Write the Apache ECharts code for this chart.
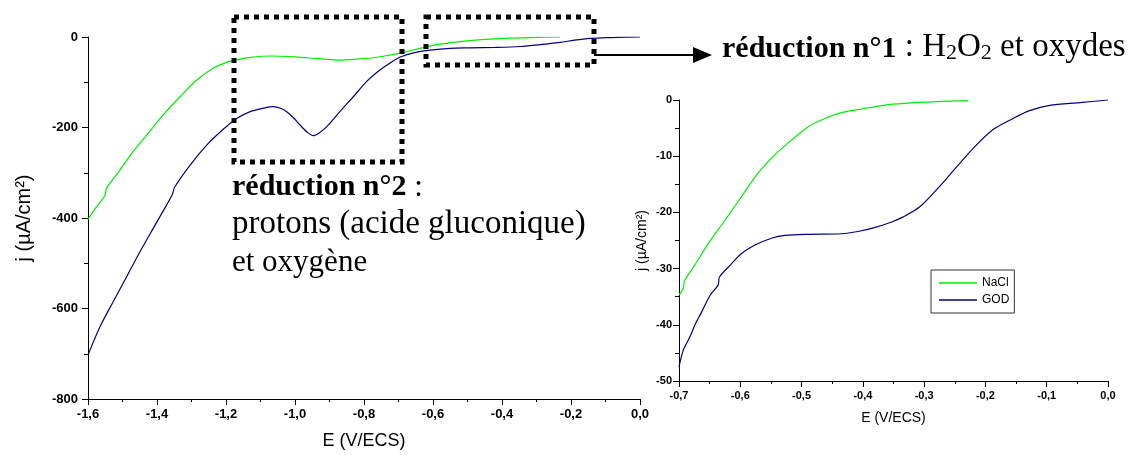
<!DOCTYPE html>
<html>
<head>
<meta charset="utf-8">
<script src="https://cdn.jsdelivr.net/npm/echarts@6/dist/echarts.min.js"></script>
<style>html,body{margin:0;padding:0;background:#fff;}#c{width:1132px;height:455px;}</style>
</head>
<body>
<div id="c"></div>
<script>
// ---- Data (E in V/ECS, j in µA/cm²) ----
const seriesNames = ['NaCl', 'GOD'];
// Main chart
const mainNaCl = [[-1.6,-403],[-1.575,-375],[-1.551,-351],[-1.546,-334],[-1.507,-294],[-1.469,-253],[-1.43,-217],[-1.382,-172],[-1.333,-132],[-1.285,-95],[-1.237,-69],[-1.198,-56],[-1.159,-49],[-1.13,-45],[-1.07,-42],[-1.0,-44],[-0.93,-48],[-0.87,-51],[-0.8,-48],[-0.74,-42],[-0.69,-35],[-0.61,-20],[-0.54,-12],[-0.46,-6],[-0.38,-2.5],[-0.3,-1],[-0.232,0]];
const mainGOD = [[-1.6,-703],[-1.565,-640],[-1.527,-585],[-1.488,-530],[-1.449,-474],[-1.411,-423],[-1.372,-371],[-1.355,-347],[-1.349,-332],[-1.304,-283],[-1.256,-239],[-1.208,-204],[-1.169,-180],[-1.13,-165],[-1.09,-157],[-1.063,-154],[-1.04,-158],[-1.024,-165],[-1.005,-178],[-0.986,-194],[-0.965,-210],[-0.947,-218],[-0.93,-212],[-0.908,-198],[-0.87,-165],[-0.831,-132],[-0.792,-98],[-0.754,-73],[-0.72,-55],[-0.691,-43],[-0.65,-34],[-0.609,-29],[-0.55,-25],[-0.493,-24],[-0.42,-23],[-0.348,-21],[-0.29,-17],[-0.232,-12],[-0.19,-7],[-0.145,-3],[-0.1,-1.5],[-0.068,-0.7],[0,0]];
// Inset (zoom on réduction n°1)
const insetNaCl = [[-0.7,-34.7],[-0.693,-33.5],[-0.691,-32.2],[-0.675,-29.5],[-0.652,-25.5],[-0.625,-21.4],[-0.598,-17.2],[-0.571,-13.0],[-0.544,-9.8],[-0.516,-7.1],[-0.489,-4.75],[-0.462,-3.3],[-0.435,-2.25],[-0.402,-1.6],[-0.364,-0.9],[-0.332,-0.6],[-0.28,-0.3],[-0.228,-0.1]];
const insetGOD = [[-0.7,-47.5],[-0.693,-44.5],[-0.682,-42.1],[-0.674,-40],[-0.663,-37.7],[-0.649,-34.7],[-0.636,-32.9],[-0.634,-31.5],[-0.614,-29.1],[-0.598,-27.3],[-0.576,-25.8],[-0.549,-24.6],[-0.527,-24.1],[-0.489,-23.9],[-0.435,-23.8],[-0.408,-23.4],[-0.381,-22.7],[-0.353,-21.7],[-0.334,-20.8],[-0.307,-19.0],[-0.275,-15.4],[-0.247,-11.9],[-0.22,-8.6],[-0.188,-5.3],[-0.155,-3.3],[-0.128,-1.9],[-0.095,-0.95],[-0.046,-0.47],[0,0]];
// Axis ranges / titles
const xTitle = 'E (V/ECS)';
const yTitle = 'j (µA/cm²)';
const mainX = {min: -1.6, max: 0, interval: 0.2};
const mainY = {min: -800, max: 0, interval: 200};
const insetX = {min: -0.7, max: 0, interval: 0.1};
const insetY = {min: -50, max: 0, interval: 10};

const colors = {NaCl: '#00ee00', GOD: '#000080'};
const sans = "'Liberation Sans', Arial, sans-serif";
const serif = "'Liberation Serif', 'Times New Roman', serif";
const fmtX = v => (Math.abs(v) < 1e-9 ? '0,0' : v.toFixed(1).replace('.', ','));
const fmtY = v => String(Math.round(v));

function xAxis(gi, r, fs, nfs, gap, lm) {
  return {type: 'value', gridIndex: gi, min: r.min, max: r.max, interval: r.interval,
    name: xTitle, nameLocation: 'middle', nameGap: gap,
    nameTextStyle: {fontFamily: sans, fontSize: nfs, color: '#000'},
    axisLine: {show: true, onZero: false, lineStyle: {color: '#000', width: 1}},
    axisTick: {show: true, inside: false, length: 6, lineStyle: {color: '#000'}},
    minorTick: {show: true, splitNumber: 2, length: 3, lineStyle: {color: '#000'}},
    splitLine: {show: false}, minorSplitLine: {show: false},
    axisLabel: {formatter: fmtX, fontFamily: sans, fontWeight: 'bold', fontSize: fs, color: '#000', margin: lm, showMinLabel: true, showMaxLabel: true}};
}
function yAxis(gi, r, fs, nfs, gap, lm) {
  return {type: 'value', gridIndex: gi, min: r.min, max: r.max, interval: r.interval,
    name: yTitle, nameLocation: 'middle', nameGap: gap,
    nameTextStyle: {fontFamily: sans, fontSize: nfs, color: '#000'},
    axisLine: {show: true, onZero: false, lineStyle: {color: '#000', width: 1}},
    axisTick: {show: true, inside: false, length: 6, lineStyle: {color: '#000'}},
    minorTick: {show: true, splitNumber: 2, length: 4, lineStyle: {color: '#000'}},
    splitLine: {show: false}, minorSplitLine: {show: false},
    axisLabel: {formatter: fmtY, fontFamily: sans, fontWeight: 'bold', fontSize: fs, color: '#000', margin: lm, showMinLabel: true, showMaxLabel: true}};
}
function line(name, data, xi, yi) {
  return {name: name, type: 'line', xAxisIndex: xi, yAxisIndex: yi, data: data,
    symbol: 'none', smooth: 0.3, lineStyle: {color: colors[name], width: 1.2},
    itemStyle: {color: colors[name]}, silent: true, z: 2};
}

const chart = echarts.init(document.getElementById('c'), null, {renderer: 'canvas'});
const dash = {fill: 'none', stroke: '#000', lineWidth: 5, lineDash: [5, 5]};
const legendIcon = 'path://M0,0H38V1.3H0Z';
chart.setOption({
  animation: false,
  backgroundColor: '#fff',
  grid: [
    {left: 88, right: 492, top: 37, bottom: 56},
    {left: 679, right: 24, top: 100, bottom: 74}
  ],
  xAxis: [xAxis(0, mainX, 13, 18, 33, 9), xAxis(1, insetX, 11, 14, 30, 9)],
  yAxis: [yAxis(0, mainY, 13, 20, 54, 10), yAxis(1, insetY, 11, 14, 30, 7)],
  legend: {
    data: seriesNames.map(n => ({name: n, icon: legendIcon})),
    orient: 'vertical', left: 931, top: 270,
    itemWidth: 38, itemHeight: 14, itemGap: 5, padding: [7, 5, 7, 8],
    borderColor: '#333', borderWidth: 1, backgroundColor: '#fff',
    textStyle: {fontFamily: sans, fontSize: 12, color: '#000'}
  },
  series: [
    line('NaCl', mainNaCl, 0, 0), line('GOD', mainGOD, 0, 0),
    line('NaCl', insetNaCl, 1, 1), line('GOD', insetGOD, 1, 1)
  ],
  graphic: [
    {type: 'rect', z: 100, shape: {x: 234, y: 17, width: 168, height: 145}, style: dash},
    {type: 'rect', z: 100, shape: {x: 426, y: 17, width: 168, height: 48}, style: dash},
    {type: 'line', z: 100, shape: {x1: 594, y1: 55, x2: 697, y2: 55}, style: {stroke: '#000', lineWidth: 2}},
    {type: 'polygon', z: 100, shape: {points: [[693, 47], [712, 55], [693, 63]]}, style: {fill: '#000'}},
    {type: 'text', z: 100, left: 722, top: 31, style: {
      text: '{b|réduction n°1}{r| : H}{s|2}{r|O}{s|2}{r| et oxydes}',
      rich: {
        b: {fontFamily: serif, fontWeight: 'bold', fontSize: 30, lineHeight: 36, verticalAlign: 'bottom', fill: '#000'},
        r: {fontFamily: serif, fontSize: 33, lineHeight: 36, verticalAlign: 'bottom', fill: '#000'},
        s: {fontFamily: serif, fontSize: 22, lineHeight: 20, verticalAlign: 'bottom', fill: '#000'}
      }}},
    {type: 'text', z: 100, left: 232, top: 172, style: {
      text: '{b|réduction n°2}{r| :}',
      rich: {
        b: {fontFamily: serif, fontWeight: 'bold', fontSize: 30, lineHeight: 36, fill: '#000'},
        r: {fontFamily: serif, fontSize: 31, lineHeight: 36, fill: '#000'}
      }}},
    {type: 'text', z: 100, left: 232, top: 208, style: {text: 'protons (acide gluconique)', fontFamily: serif, fontSize: 33, fill: '#000'}},
    {type: 'text', z: 100, left: 232, top: 247, style: {text: 'et oxygène', fontFamily: serif, fontSize: 31, fill: '#000'}}
  ]
});
</script>
</body>
</html>
